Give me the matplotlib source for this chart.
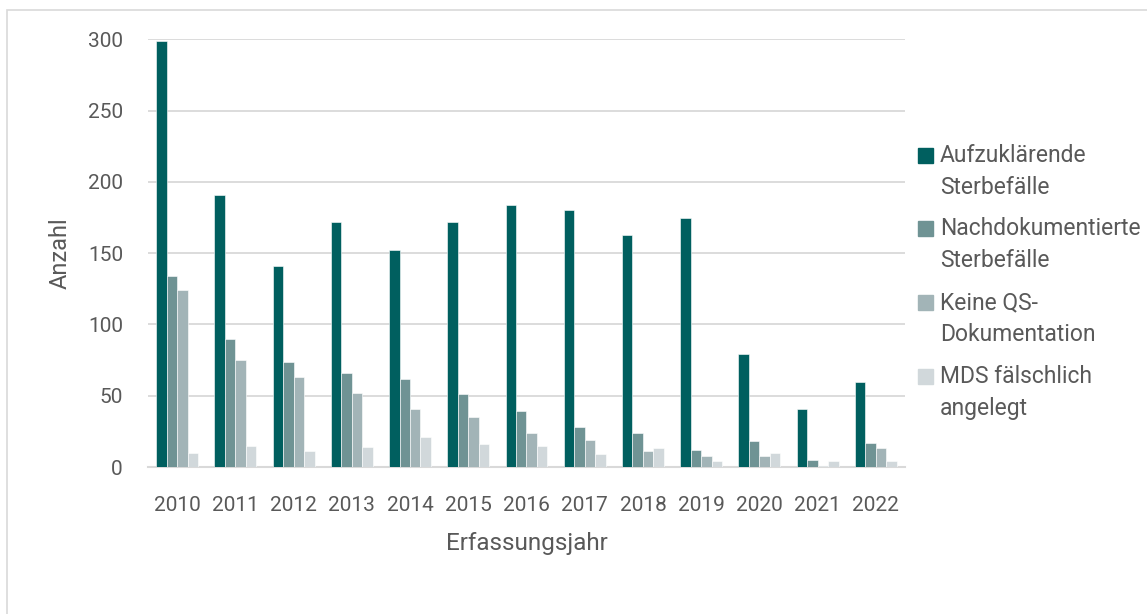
import matplotlib
matplotlib.use("Agg")
import matplotlib.pyplot as plt
from matplotlib.patches import Rectangle
import numpy as np

plt.rcParams['font.family'] = ['Roboto', 'DejaVu Sans']

jahre = ['2010', '2011', '2012', '2013', '2014', '2015', '2016',
         '2017', '2018', '2019', '2020', '2021', '2022']
aufzuklaerend = [299, 191, 141, 172, 152, 172, 184, 180, 163, 175, 79, 41, 60]
nachdokumentiert = [134, 90, 74, 66, 62, 51, 39, 28, 24, 12, 18, 5, 17]
keine_qs = [124, 75, 63, 52, 41, 35, 24, 19, 11, 8, 8, 1, 13]
mds_falsch = [10, 15, 11, 14, 21, 16, 15, 9, 13, 4, 10, 4, 4]

serien = [aufzuklaerend, nachdokumentiert, keine_qs, mds_falsch]
namen = ['Aufzuklärende\nSterbefälle', 'Nachdokumentierte\nSterbefälle',
         'Keine QS-\nDokumentation', 'MDS fälschlich\nangelegt']
farben = ['#005F5F', '#6F9394', '#A2B4B7', '#D1D8DB']

textfarbe = '#595959'
gitter = '#D9D9D9'
W, H = 1147, 614

fig = plt.figure(figsize=(W / 100, H / 100), dpi=100)
ax = fig.add_axes([0.129, 0.2394, 0.660, 0.6963])

x = np.arange(len(jahre))
w = 0.18
for i, (werte, name, farbe) in enumerate(zip(serien, namen, farben)):
    ax.bar(x + (i - 1.5) * w, werte, w, color=farbe, label=name,
           edgecolor='white', linewidth=0.4, zorder=3)

ax.set_xlim(-0.5, len(jahre) - 0.5)
ax.set_ylim(0, 300)
ax.set_yticks([0, 50, 100, 150, 200, 250, 300])
ax.set_xticks(x)
ax.set_xticklabels(jahre)
ax.grid(axis='y', color=gitter, linewidth=1.3, zorder=0)
for s in ['top', 'right', 'left']:
    ax.spines[s].set_visible(False)
ax.spines['bottom'].set_color(gitter)
ax.spines['bottom'].set_linewidth(1.5)
ax.tick_params(axis='both', length=0, labelsize=15, colors=textfarbe)
ax.tick_params(axis='y', pad=18)
ax.tick_params(axis='x', pad=21)

ax.set_ylabel('Anzahl', fontsize=17, color=textfarbe, labelpad=12)
ax.set_xlabel('Erfassungsjahr', fontsize=17.5, color=textfarbe, labelpad=12)

# Legende von Hand: Quadrat an der ersten Zeile jedes Eintrags
for i, (name, farbe) in enumerate(zip(namen, farben)):
    y0 = 155 + i * 73.7
    fig.patches.append(Rectangle((918 / W, 1 - (y0 + 7.5) / H), 15 / W, 15 / H,
                                 transform=fig.transFigure, color=farbe))
    for k, zeile in enumerate(name.split('\n')):
        fig.text(940 / W, 1 - (y0 + k * 32) / H, zeile, fontsize=16.5,
                 color=textfarbe, va='center', ha='left')

fig.patches.append(Rectangle((7 / W, -0.1), 1.2, 1.1 - 10 / H,
                             transform=fig.transFigure, fill=False,
                             edgecolor=gitter, linewidth=1.2))

fig.savefig('out.png', dpi=100)
